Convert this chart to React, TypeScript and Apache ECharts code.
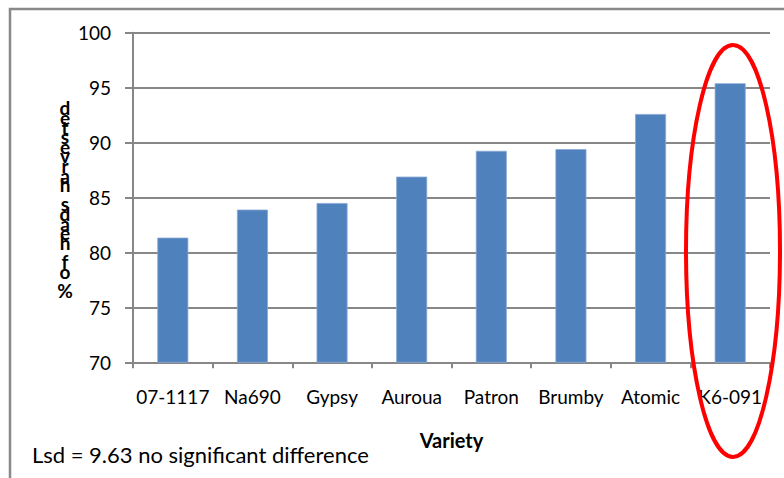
import React, { useEffect, useRef } from "react";
import * as echarts from "echarts";

const categories = ["07-1117", "Na690", "Gypsy", "Auroua", "Patron", "Brumby", "Atomic", "K6-091"];
const values = [81.35, 83.9, 84.5, 86.9, 89.25, 89.4, 92.6, 95.4];
const yTicks = { min: 70, max: 100, interval: 5 };
const yAxisTitle = "% of heads harvested";
const xAxisTitle = "Variety";
const note = "Lsd = 9.63 no significant difference";

const FONT = "Lato, 'Open Sans', sans-serif";

export default function App() {
  const ref = useRef<HTMLDivElement>(null);
  useEffect(() => {
    if (!ref.current) return;
    const chart = echarts.init(ref.current, undefined, { renderer: "svg" });
    const stacked = yAxisTitle.split("").reverse().join("\n");
    chart.setOption({
      animation: false,
      backgroundColor: "#ffffff",
      textStyle: { fontFamily: FONT },
      grid: { left: 133, right: 14, top: 32.7, bottom: 115.7, containLabel: false },
      xAxis: {
        type: "category",
        data: categories,
        axisLine: { show: true, lineStyle: { color: "#878787", width: 2 } },
        axisTick: { show: true, length: 6, lineStyle: { color: "#878787", width: 2 } },
        axisLabel: { color: "#000", fontSize: 19, fontFamily: FONT, margin: 25, interval: 0 },
        name: xAxisTitle,
        nameLocation: "middle",
        nameGap: 68,
        nameTextStyle: { color: "#000", fontSize: 20, fontWeight: "bold", fontFamily: FONT },
      },
      yAxis: {
        type: "value",
        min: yTicks.min,
        max: yTicks.max,
        interval: yTicks.interval,
        axisLine: { show: true, lineStyle: { color: "#878787", width: 2 } },
        axisTick: { show: true, inside: false, length: 8, lineStyle: { color: "#878787", width: 2 } },
        axisLabel: { color: "#000", fontSize: 19, fontFamily: FONT, margin: 22 },
        splitLine: { show: true, lineStyle: { color: "#878787", width: 2 } },
      },
      series: [
        {
          type: "bar",
          data: values,
          barWidth: 31,
          itemStyle: { color: "#4f81bd", borderColor: "#8aaad6", borderWidth: 0.8 },
        },
      ],
      graphic: [
        {
          type: "rect",
          shape: { x: 10, y: 9, width: 820, height: 520 },
          style: { fill: "none", stroke: "#898989", lineWidth: 2.5 },
          silent: true,
          z: -1,
        },
        {
          type: "text",
          x: 65,
          y: 103,
          style: {
            text: stacked,
            fontSize: 19,
            fontWeight: "bold",
            fontFamily: FONT,
            lineHeight: 9.6,
            align: "center",
            verticalAlign: "top",
            fill: "#000",
          },
        },
        {
          type: "text",
          x: 32,
          y: 454,
          style: {
            text: note,
            fontSize: 22,
            fontFamily: FONT,
            align: "left",
            verticalAlign: "middle",
            fill: "#000",
          },
        },
        {
          type: "ellipse",
          shape: { cx: 733, cy: 251, rx: 47, ry: 206 },
          style: { fill: "none", stroke: "#ff0000", lineWidth: 4 },
          z: 100,
        },
      ],
    });
    return () => chart.dispose();
  }, []);
  return <div ref={ref} style={{ position: "fixed", left: 0, top: 0, width: 784, height: 478 }} />;
}
